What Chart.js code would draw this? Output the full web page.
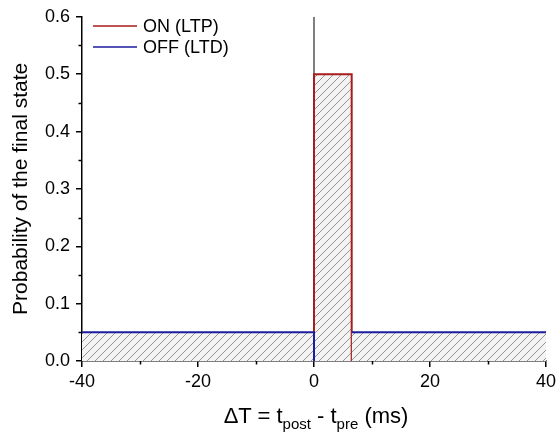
<!DOCTYPE html>
<html>
<head>
<meta charset="utf-8">
<script src="https://cdn.jsdelivr.net/npm/chart.js@4.4.1/dist/chart.umd.min.js"></script>
<style>
    body { margin: 0; background: #fff; }
    #wrap { position: relative; width: 560px; height: 436px; }
    #xTitle {
        position: absolute; left: 0; top: 403px; width: 632px;
        text-align: center; font-family: "Liberation Sans", Arial, sans-serif;
        font-size: 22px; line-height: 26px; color: #000; white-space: nowrap;
    }
    #xTitle sub { font-size: 15px; vertical-align: -6px; line-height: 0; }
</style>
</head>
<body>
<div id="wrap">
    <canvas id="chart" width="560" height="436"></canvas>
    <div id="xTitle">&Delta;T = t<sub>post</sub> - t<sub>pre</sub> (ms)</div>
</div>
<script>
// data
const onX = [0, 0, 6.5, 6.5];
const onY = [0, 0.5, 0.5, 0];
const offLeftX = [-40, 0, 0];
const offLeftY = [0.05, 0.05, 0];
const offRightX = [6.5, 40];
const offRightY = [0.05, 0.05];
const markerX = [0, 0];
const markerY = [0, 0.6];
const xTicks = [-40, -20, 0, 20, 40];
const yTicks = [0, 0.1, 0.2, 0.3, 0.4, 0.5, 0.6];
const legendLabels = ['ON (LTP)', 'OFF (LTD)'];

const red = '#a81c1c';
const blue = '#1c1c9c';
const font = '"Liberation Sans", Arial, sans-serif';

function pts(xs, ys) {
    return xs.map((x, i) => ({ x: x, y: ys[i] }));
}

// grey hatch ///
function makeHatch() {
    const c = document.createElement('canvas');
    c.width = 8; c.height = 8;
    const g = c.getContext('2d');
    g.fillStyle = '#f3f3f3';
    g.fillRect(0, 0, 8, 8);
    g.strokeStyle = '#959595';
    g.lineWidth = 1;
    g.beginPath();
    g.moveTo(0, 8); g.lineTo(8, 0);
    g.moveTo(-2, 2); g.lineTo(2, -2);
    g.moveTo(6, 10); g.lineTo(10, 6);
    g.stroke();
    return document.getElementById('chart').getContext('2d').createPattern(c, 'repeat');
}
const hatch = makeHatch();

// minor ticks + legend drawn on top
const extras = {
    id: 'extras',
    afterDraw(chart) {
        const ctx = chart.ctx;
        const xs = chart.scales.x, ys = chart.scales.y;
        const area = chart.chartArea;
        ctx.save();
        ctx.strokeStyle = '#000';
        ctx.lineWidth = 1.5;
        ctx.beginPath();
        for (let i = 0; i < xTicks.length - 1; i++) {
            const px = Math.round(xs.getPixelForValue((xTicks[i] + xTicks[i + 1]) / 2)) + 0.5;
            ctx.moveTo(px, area.bottom); ctx.lineTo(px, area.bottom + 3.5);
        }
        for (let i = 0; i < yTicks.length - 1; i++) {
            const py = Math.round(ys.getPixelForValue((yTicks[i] + yTicks[i + 1]) / 2)) + 0.5;
            ctx.moveTo(area.left, py); ctx.lineTo(area.left - 3.5, py);
        }
        ctx.stroke();

        // legend
        const colors = [red, blue];
        ctx.font = '18px ' + font;
        ctx.textBaseline = 'middle';
        ctx.fillStyle = '#000';
        legendLabels.forEach((lab, i) => {
            const y = 26 + i * 21;
            ctx.strokeStyle = colors[i];
            ctx.lineWidth = 1.5;
            ctx.beginPath();
            ctx.moveTo(93, y); ctx.lineTo(137, y);
            ctx.stroke();
            ctx.fillText(lab, 143, y + 1);
        });
        ctx.restore();
    }
};

new Chart(document.getElementById('chart'), {
    type: 'line',
    data: {
        datasets: [
            { label: legendLabels[1], data: pts(offLeftX, offLeftY), borderColor: blue, borderWidth: 2, backgroundColor: hatch, fill: 'origin' },
            { label: legendLabels[1], data: pts(offRightX, offRightY), borderColor: blue, borderWidth: 2, backgroundColor: hatch, fill: 'origin' },
            { label: legendLabels[0], data: pts(onX, onY), borderColor: red, borderWidth: 2, backgroundColor: hatch, fill: 'origin' },
            { label: 'marker', data: pts(markerX, markerY), borderColor: '#000', borderWidth: 1, fill: false }
        ]
    },
    options: {
        responsive: false,
        animation: false,
        events: [],
        elements: { point: { radius: 0 }, line: { tension: 0 } },
        layout: { padding: { top: 12, right: 11, left: 0, bottom: 0 } },
        plugins: { legend: { display: false }, tooltip: { enabled: false } },
        scales: {
            x: {
                type: 'linear', min: -40, max: 40,
                afterBuildTicks: s => { s.ticks = xTicks.map(v => ({ value: v })); },
                afterFit: s => { s.height = 75; },
                border: { color: '#000', width: 1.5 },
                grid: { drawOnChartArea: false, tickLength: 6, color: '#000', lineWidth: 1.5 },
                ticks: { color: '#000', font: { family: font, size: 18 }, padding: 4, maxRotation: 0 }
            },
            y: {
                min: 0, max: 0.6,
                afterBuildTicks: s => { s.ticks = yTicks.map(v => ({ value: v })); },
                afterFit: s => { s.width = 82; },
                border: { color: '#000', width: 1.5 },
                grid: { drawOnChartArea: false, tickLength: 6, color: '#000', lineWidth: 1.5 },
                ticks: { color: '#000', font: { family: font, size: 18 }, padding: 6, callback: v => v.toFixed(1) },
                title: { display: true, text: 'Probability of the final state', color: '#000', font: { family: font, size: 21 }, padding: { top: 9, bottom: 0 } }
            }
        }
    },
    plugins: [extras]
});
</script>
</body>
</html>
